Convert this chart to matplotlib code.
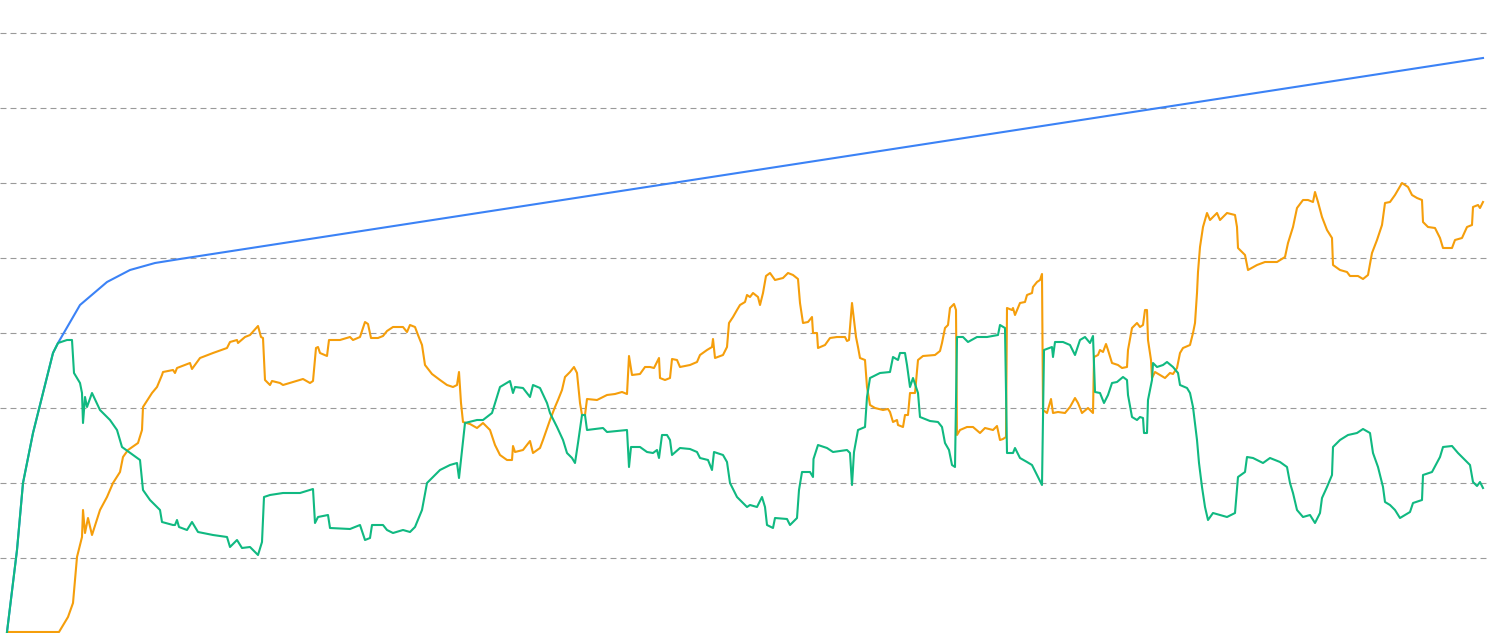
import matplotlib
matplotlib.use("Agg")
import matplotlib.pyplot as plt

# x positions (days) and values for each series
blue_x = [7, 17, 23, 33, 43, 53, 58, 80, 107, 130, 155, 180, 1483]
blue_y = [1, 83, 150, 200, 240, 280, 290, 328, 351, 363, 370, 374, 575]

green_x = [7, 17, 23, 33, 43, 53, 58, 67, 72, 74, 80, 82, 83, 85, 87, 92, 100, 110, 117, 122,
           133, 140, 143, 150, 160, 162, 173, 175, 177, 179, 187, 192, 198, 213, 227, 230, 237, 242, 250,
           258, 262, 264, 270, 283, 300, 313, 315, 318, 328, 330, 350, 360, 365, 370, 372, 383, 387,
           393, 403, 410, 415, 422, 427, 432, 440, 450, 457, 459, 462, 465, 477, 483, 492, 500,
           510, 513, 515, 523, 530, 533, 540, 547, 550, 557, 563, 567, 572, 575, 578, 582, 585, 587,
           603, 607, 627, 629, 631, 640, 647, 653, 657, 659, 662, 667, 670, 672, 680, 690, 697, 700,
           708, 712, 714, 723, 727, 730, 737, 747, 750,
           757, 762, 765, 767, 773, 775, 787, 790, 797, 799, 802, 810, 813, 813.5, 818, 827, 833, 847,
           850, 852, 854, 858, 865, 867, 870, 880, 890, 893, 898, 900, 905, 907, 910, 913, 916, 918,
           920, 930, 938, 942, 945, 949, 952, 955, 957, 963, 968, 977, 987, 998, 1000,
           1005, 1007, 1013, 1015, 1020, 1027, 1032, 1037, 1042, 1044, 1052, 1053, 1055, 1063, 1070,
           1075, 1080, 1085, 1090, 1093, 1095, 1100, 1104, 1108, 1112, 1117, 1123, 1127, 1128, 1132,
           1137, 1140, 1143, 1144, 1147, 1148, 1152, 1153, 1157, 1163, 1167, 1173, 1178, 1180, 1187,
           1190, 1193, 1197, 1199, 1202, 1205, 1208, 1213, 1220, 1227, 1235, 1238, 1245, 1247, 1253,
           1263, 1270, 1280, 1287, 1290, 1293, 1297, 1303, 1310, 1315, 1320, 1322, 1327, 1332, 1333,
           1340, 1348, 1357, 1363, 1370, 1373, 1378, 1383, 1385, 1390, 1395, 1400, 1410, 1413, 1422,
           1423, 1432, 1440, 1443, 1452, 1458, 1463, 1470, 1473, 1477, 1480, 1483]
green_y = [1, 83, 150, 200, 240, 280, 290, 293, 293, 260, 250, 240, 210, 236, 226, 240, 223, 213, 203, 186,
           178, 173, 143, 133, 123, 111, 108, 108, 113, 106, 103, 111, 101, 98, 96, 86, 93, 85, 86,
           78, 91, 136, 138, 140, 140, 144, 110, 116, 118, 105, 104, 108, 93, 95, 108, 108, 103,
           100, 103, 101, 106, 123, 150, 155, 163, 168, 170, 155, 183, 210, 213, 213, 220, 246,
           252, 240, 246, 245, 236, 248, 245, 230, 220, 206, 193, 180, 175, 170, 190, 218, 218, 203,
           205, 201, 203, 166, 186, 186, 181, 180, 183, 175, 198, 198, 193, 178, 185, 184, 181, 175,
           173, 163, 181, 178, 171, 150, 136, 126, 128,
           126, 136, 126, 108, 105, 115, 114, 108, 115, 143, 161, 161, 156, 174, 188, 185, 181, 183,
           180, 148, 181, 203, 206, 236, 255, 260, 261, 276, 273, 280, 280, 268, 246, 255, 246, 240,
           216, 212, 211, 206, 190, 183, 168, 166, 296, 296, 291, 296, 296, 298, 308,
           305, 180, 180, 185, 175, 171, 168, 158, 148, 283, 286, 276, 291, 291, 288,
           278, 293, 296, 290, 297, 241, 240, 230, 238, 250, 251, 256, 253, 238, 216,
           213, 216, 215, 200, 200, 233, 253, 270, 266, 268, 271, 266, 260, 248, 245,
           240, 226, 193, 170, 146, 126, 113, 120, 118, 116, 120, 156, 161, 176, 175,
           170, 175, 171, 166, 150, 140, 123, 116, 118, 110, 120, 135, 146, 158, 186,
           193, 198, 200, 204, 200, 180, 166, 146, 131, 128, 123, 115, 121, 130, 133,
           158, 161, 176, 186, 187, 180, 175, 168, 151, 147, 151, 145]

orange_x = [7, 59, 68, 73, 75, 77, 82, 83, 85, 88, 92, 100, 107, 113, 120, 123, 128, 138, 142, 143,
            152, 157, 162, 163, 173, 175, 177, 190, 192, 200, 213, 227, 230, 237, 238, 245, 250,
            258, 261, 263, 265, 270, 272, 280, 283, 293, 303, 310, 313, 316, 318, 320, 327, 329, 340,
            350, 353, 360, 365, 368, 371, 378, 383, 387, 393, 403, 407, 410, 415, 418, 422, 425, 432,
            440, 447, 453, 457, 459, 461, 463, 470, 477, 483, 490, 495, 500,
            507, 512, 513, 515, 523, 530, 533, 540, 543, 550, 555, 558, 562, 565, 570, 574, 577, 580,
            582, 585, 587, 597, 607, 615, 622, 627, 629, 632, 640, 645, 650, 654, 659, 660, 665, 670,
            672, 677, 680, 690, 697, 700, 707, 712, 713, 715, 723, 727, 729, 733, 737, 740, 745, 747, 750,
            753, 758, 760, 763, 766, 770, 775, 783, 788, 793, 798, 800, 803, 808, 812, 813, 817, 818,
            825, 830, 837, 845, 847, 849, 852, 854, 856, 858, 860, 865, 867, 870, 875, 883, 888, 890,
            893, 897, 898, 903, 905, 908, 910, 915, 918, 923, 935, 940, 942, 945, 948, 950, 954, 956,
            957, 960, 967, 973, 980, 985, 993, 997, 1000,
            1003, 1006, 1007, 1012, 1013, 1015, 1020, 1025, 1027, 1032, 1033, 1037, 1040, 1042, 1043,
            1047, 1051, 1053, 1058, 1065, 1070, 1075, 1078, 1082, 1088, 1093, 1094, 1098, 1100, 1103,
            1106, 1108, 1112, 1118, 1122, 1127, 1128, 1132, 1137, 1140, 1143, 1145, 1147, 1148, 1151,
            1152, 1155, 1160, 1165, 1170, 1173, 1177, 1180, 1183, 1190, 1193, 1195, 1197, 1198, 1200,
            1203, 1207, 1210, 1217, 1220, 1227, 1235, 1237, 1238, 1245, 1248, 1257, 1265, 1277, 1285,
            1288, 1293, 1297, 1303, 1308, 1313, 1315, 1318, 1322, 1327, 1332, 1333, 1340, 1347, 1350,
            1358, 1363, 1368, 1372, 1377, 1382, 1385, 1390, 1395, 1402, 1408, 1412, 1417, 1422, 1423,
            1428, 1435, 1440, 1443, 1452, 1455, 1462, 1467, 1472, 1473, 1478, 1480, 1483]
orange_y = [1, 1, 16, 30, 53, 76, 96, 123, 100, 115, 98, 123, 136, 150, 161, 176, 183, 190, 203, 226,
            240, 246, 258, 261, 263, 260, 265, 270, 264, 275, 280, 285, 291, 293, 290, 296, 298,
            307, 296, 295, 253, 248, 252, 250, 248, 251, 254, 250, 252, 285, 286, 280, 277, 293, 293,
            296, 293, 296, 311, 309, 295, 295, 297, 302, 306, 306, 301, 308, 306, 298, 288, 268, 259,
            253, 248, 246, 248, 261, 230, 211, 209, 205, 210, 203, 188, 178,
            173, 173, 187, 181, 183, 192, 180, 185, 193, 213, 226, 233, 243, 256, 261, 266, 260, 230,
            218, 218, 234, 233, 238, 239, 241, 239, 277, 258, 259, 266, 266, 265, 275, 255, 253, 255,
            274, 273, 266, 268, 271, 278, 283, 286, 294, 275, 278, 286, 310, 316, 323, 328, 331, 338, 336,
            340, 336, 328, 340, 357, 360, 353, 355, 360, 358, 354, 330, 310, 311, 316, 300, 300, 285,
            288, 295, 296, 296, 292, 293, 330, 313, 296, 286, 275, 273, 246, 228, 225, 223, 224, 221,
            211, 213, 208, 206, 218, 218, 240, 240, 273, 277, 278, 282, 290, 305, 308, 325, 329, 323,
            198, 203, 206, 206, 200, 205, 203, 207, 193,
            194, 196, 325, 323, 325, 318, 330, 331, 338, 340, 346, 351, 353, 359, 223,
            220, 234, 220, 221, 220, 226, 235, 230, 220, 225, 220, 276, 278, 283, 281,
            289, 283, 270, 268, 265, 266, 283, 305, 310, 306, 308, 323, 323, 293, 273,
            255, 261, 258, 255, 260, 259, 265, 280, 285, 288, 300, 310, 340, 361, 386,
            406, 420, 413, 420, 413, 420, 418, 406, 385, 378, 363, 368, 371, 371, 376,
            390, 406, 425, 433, 433, 431, 441, 431, 416, 403, 395, 368, 363, 361, 357,
            357, 354, 358, 380, 393, 408, 430, 431, 438, 450, 446, 438, 435, 433, 411,
            406, 405, 395, 385, 385, 393, 395, 406, 408, 426, 428, 425, 431]

grid_levels = [75, 150, 225, 300, 375, 450, 525, 600]

plt.rcParams['lines.scale_dashes'] = False
fig = plt.figure(figsize=(14.9, 6.33), dpi=100)
ax = fig.add_axes([0, 0, 1, 1])

for lvl in grid_levels:
    ax.axhline(lvl, color='#9a9a9a', linewidth=0.8, linestyle=(0, (4.3, 2.9)), zorder=1)

ax.plot(blue_x, blue_y, color='#3b82f6', linewidth=1.5, zorder=2)
ax.plot(orange_x, orange_y, color='#f59e0b', linewidth=1.5, zorder=3, clip_on=False)
ax.plot(green_x, green_y, color='#10b981', linewidth=1.5, zorder=4, clip_on=False)

ax.set_xlim(0, 1490)
ax.set_ylim(0, 633)
ax.axis('off')

fig.savefig('out.png', dpi=100, facecolor='white')
